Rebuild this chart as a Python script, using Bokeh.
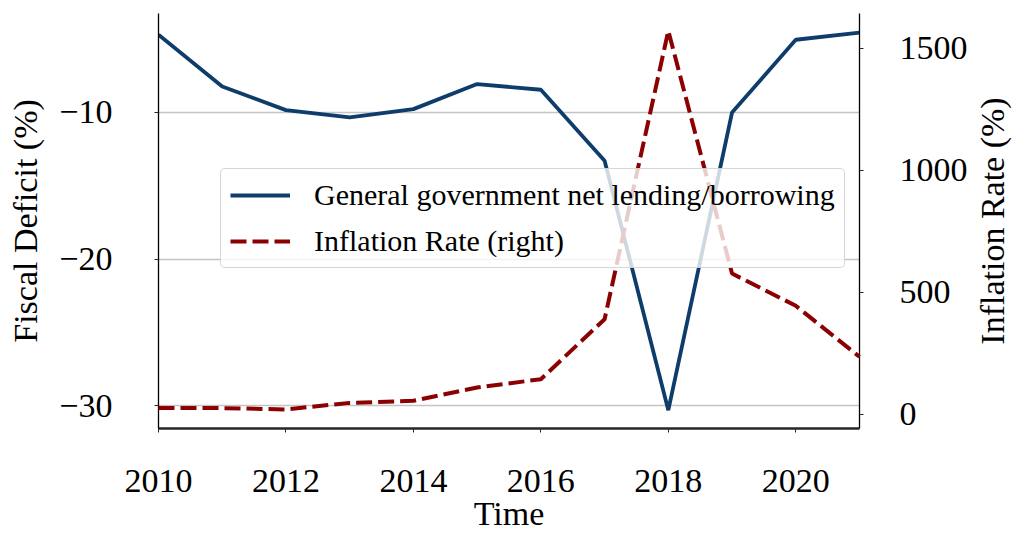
from bokeh.plotting import figure
from bokeh.layouts import row
from bokeh.models import Range1d, LinearAxis, Legend, LegendItem, FixedTicker
from bokeh.embed import file_html
from bokeh.resources import INLINE

# ---- data ----
years = [2010, 2011, 2012, 2013, 2014, 2015, 2016, 2017, 2018, 2019, 2020, 2021]
fiscal_deficit = [-4.70, -8.23, -9.84, -10.34, -9.77, -8.06, -8.45, -13.29, -30.3, -10.0, -5.04, -4.55]
inflation_rate = [24.6, 24.6, 19.0, 46.0, 54.5, 109.0, 143.0, 389.0, 1571.0, 576.0, 444.0, 235.0]

x_ticks = [2010, 2012, 2014, 2016, 2018, 2020]
left_ticks = [-30, -20, -10]
left_tick_labels = ["\u221230", "\u221220", "\u221210"]
right_ticks = [0, 500, 1000, 1500]

series_labels = ["General government net lending/borrowing", "Inflation Rate (right)"]
x_title = "Time"
left_title = "Fiscal Deficit (%)"
right_title = "Inflation Rate (%)"

FONT = "Liberation Serif"
BLUE = "#0e3c6b"
RED = "#8b0000"

p = figure(width=970, height=535, output_backend="svg", toolbar_location=None,
           x_range=Range1d(2010, 2021), y_range=Range1d(-31.55, -3.25),
           min_border_left=158, min_border_right=110, min_border_top=13, min_border_bottom=107)
p.extra_y_ranges = {"infl": Range1d(-59, 1642)}
p.outline_line_color = None
p.background_fill_color = "white"
p.border_fill_color = "white"

blue = p.line(years, fiscal_deficit, line_color=BLUE, line_width=3.8)
red = p.line(years, inflation_rate, y_range_name="infl", line_color=RED,
             line_width=4, line_dash="16 6", level="overlay")

# grids
p.xgrid.visible = False
p.ygrid.grid_line_color = "#c4c4c4"
p.ygrid.grid_line_width = 1.5

# x axis
xa = p.xaxis[0]
xa.ticker = FixedTicker(ticks=x_ticks)
xa.axis_label = x_title
xa.axis_line_color = "#262626"
xa.axis_line_width = 2.5
xa.major_tick_out = 4
xa.major_tick_in = 0
xa.minor_tick_out = 0
xa.minor_tick_in = 0
xa.major_label_standoff = 37
xa.axis_label_standoff = 0

# left axis
ya = p.yaxis[0]
ya.ticker = FixedTicker(ticks=left_ticks)
ya.major_label_overrides = dict(zip(left_ticks, left_tick_labels))
ya.axis_label = left_title
ya.axis_line_width = 1.3
ya.major_tick_out = 4
ya.major_tick_in = 0
ya.minor_tick_out = 0
ya.minor_tick_in = 0
ya.major_label_standoff = 42
ya.axis_label_standoff = 12

# right axis (ticks and tick labels)
ra = LinearAxis(y_range_name="infl", ticker=FixedTicker(ticks=right_ticks))
ra.axis_line_width = 1.3
ra.major_tick_out = 4
ra.major_tick_in = 0
ra.minor_tick_out = 0
ra.minor_tick_in = 0
ra.major_label_standoff = 36
p.add_layout(ra, "right")

for ax in (xa, ya, ra):
    ax.major_label_text_font = FONT
    ax.major_label_text_font_size = "34px"
    ax.major_label_text_color = "black"
    ax.axis_label_text_font = FONT
    ax.axis_label_text_font_size = "34px"
    ax.axis_label_text_font_style = "normal"
    ax.axis_label_text_color = "black"
    ax.major_tick_line_color = "#262626"

legend = Legend(items=[LegendItem(label=series_labels[0], renderers=[blue]),
                       LegendItem(label=series_labels[1], renderers=[red])],
                location=(62, 160),
                label_text_font=FONT, label_text_font_size="30px", label_text_color="black",
                glyph_width=60, glyph_height=30, label_standoff=24,
                padding=9, spacing=12,
                background_fill_color="white", background_fill_alpha=0.8,
                border_line_color="#cccccc", border_line_alpha=0.8, border_line_width=1)
if "border_radius" in Legend.properties():
    legend.border_radius = 5
p.add_layout(legend, "center")

# narrow companion figure that carries the right-hand title (reads bottom-to-top)
p2 = figure(width=43, height=535, output_backend="svg", toolbar_location=None,
            x_axis_location=None, x_range=Range1d(0, 1), y_range=Range1d(-59, 1642),
            min_border_left=37, min_border_right=0, min_border_top=13, min_border_bottom=107)
p2.outline_line_color = None
p2.grid.visible = False
p2.background_fill_color = "white"
p2.border_fill_color = "white"
ta = p2.yaxis[0]
ta.ticker = FixedTicker(ticks=[])
ta.axis_line_color = None
ta.major_tick_out = 0
ta.major_tick_in = 0
ta.minor_tick_out = 0
ta.minor_tick_in = 0
ta.major_label_standoff = 0
ta.axis_label = right_title
ta.axis_label_standoff = 0
ta.axis_label_text_font = FONT
ta.axis_label_text_font_size = "34px"
ta.axis_label_text_font_style = "normal"
ta.axis_label_text_color = "black"

layout = row(p, p2, spacing=0)

open("out.html", "w").write(file_html(layout, INLINE))
